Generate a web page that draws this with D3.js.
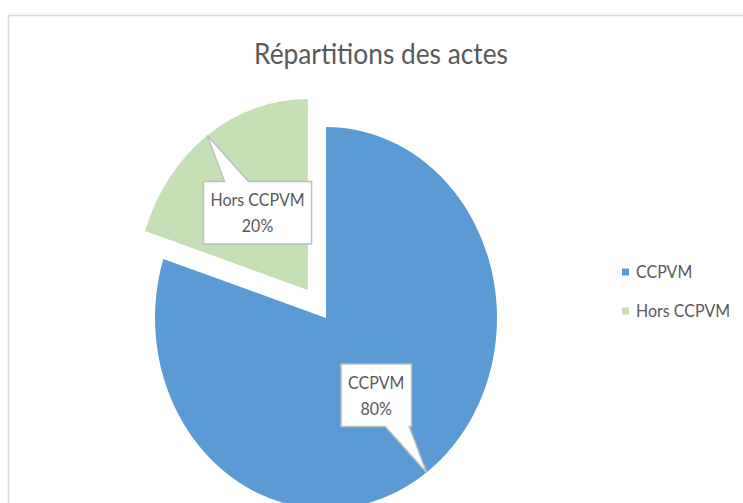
<!DOCTYPE html>
<html><head><meta charset="utf-8">
<script src="https://cdn.jsdelivr.net/npm/d3@7"></script>
<style>body{margin:0;background:#fff;overflow:hidden}svg{display:block}</style>
</head><body>
<svg id="c" width="743" height="503"></svg>
<script>
const title = "Répartitions des actes";
const categories = ["CCPVM", "Hors CCPVM"];
const values = [80, 20];
const percentLabels = ["80%", "20%"];
const colors = ["#5B9BD5", "#C5E0B4"];
const explode = [0, 31];

const W = 743, H = 503;
const sy = 1.117;            // vertical stretch of the reference
const R = 171, cx = 326, cy = 318;
const svg = d3.select("#c");
const font = "Lato, 'Open Sans', sans-serif";
const txtCol = "#595959";

// frame
svg.append("rect").attr("x", 8.5).attr("y", 15.5).attr("width", W + 20).attr("height", H + 20)
  .attr("fill", "#fff").attr("stroke", "#D9D9D9").attr("stroke-width", 1.5);

// title
svg.append("text").attr("transform", `translate(381,64) scale(1,${sy})`)
  .attr("text-anchor", "middle").attr("font-family", font).attr("font-size", 26)
  .attr("textLength", 254).attr("lengthAdjust", "spacingAndGlyphs")
  .attr("fill", txtCol).text(title);

const pie = d3.pie().sort(null).value(d => d)(values);
const arc = d3.arc().innerRadius(0).outerRadius(R);
const mid = d3.arc().innerRadius(0).outerRadius(R);

const g = svg.append("g").attr("transform", `translate(${cx},${cy}) scale(1,${sy})`);
const off = (d, i) => {
  const a = (d.startAngle + d.endAngle) / 2;
  return [Math.sin(a) * explode[i], -Math.cos(a) * explode[i]];
};
g.selectAll("path.slice").data(pie).join("path").attr("class", "slice")
  .attr("transform", (d, i) => `translate(${off(d, i)})`)
  .attr("d", arc).attr("fill", (d, i) => colors[i]);

// data label callouts
const toScreen = (p) => [cx + p[0], cy + p[1] * sy];
const fs = 16, lh = 23;
pie.forEach((d, i) => {
  const o = off(d, i);
  const c = toScreen([mid.centroid(d)[0] + o[0], mid.centroid(d)[1] + o[1]]);
  const a = (d.startAngle + d.endAngle) / 2;
  const tip = toScreen([Math.sin(a) * R + o[0], -Math.cos(a) * R + o[1]]);
  const lg = svg.append("g");
  const path = lg.append("path");
  const t = lg.append("g").attr("transform", `translate(${c[0]},${c[1]}) scale(1,${sy})`);
  [categories[i], percentLabels[i]].forEach((s, k) => {
    t.append("text").attr("x", 0).attr("y", (k - 0.5) * lh + fs * 0.36)
      .attr("text-anchor", "middle").attr("font-family", font).attr("font-size", fs)
      .attr("fill", txtCol).text(s);
  });
  const bb = t.node().getBBox();
  const w = bb.width + 14, h = (2 * lh + 10) * sy;
  const x0 = c[0] - w / 2, x1 = c[0] + w / 2, y0 = c[1] - h / 2, y1 = c[1] + h / 2;
  const dir = Math.sign(tip[0] - c[0]);
  const bc = c[0] + dir * 21, bw = 12;
  const pts = tip[1] < y0
    ? [[x0, y0], [bc - bw, y0], tip, [bc + bw, y0], [x1, y0], [x1, y1], [x0, y1]]
    : [[x0, y0], [x1, y0], [x1, y1], [bc + bw, y1], tip, [bc - bw, y1], [x0, y1]];
  path.attr("d", d3.line()(pts) + "Z").attr("fill", "#fff").attr("stroke", "#BFBFBF")
    .attr("stroke-width", 1.5).attr("stroke-linejoin", "miter");
});

// legend
const lgd = svg.append("g");
categories.forEach((c, i) => {
  const y = 272 + i * 39;
  lgd.append("rect").attr("x", 622).attr("y", y - 3.5).attr("width", 7).attr("height", 7).attr("fill", colors[i]);
  lgd.append("text").attr("transform", `translate(636,${y + 6}) scale(1,${sy})`)
    .attr("font-family", font).attr("font-size", 16).attr("fill", txtCol).text(c);
});
</script>
</body></html>
